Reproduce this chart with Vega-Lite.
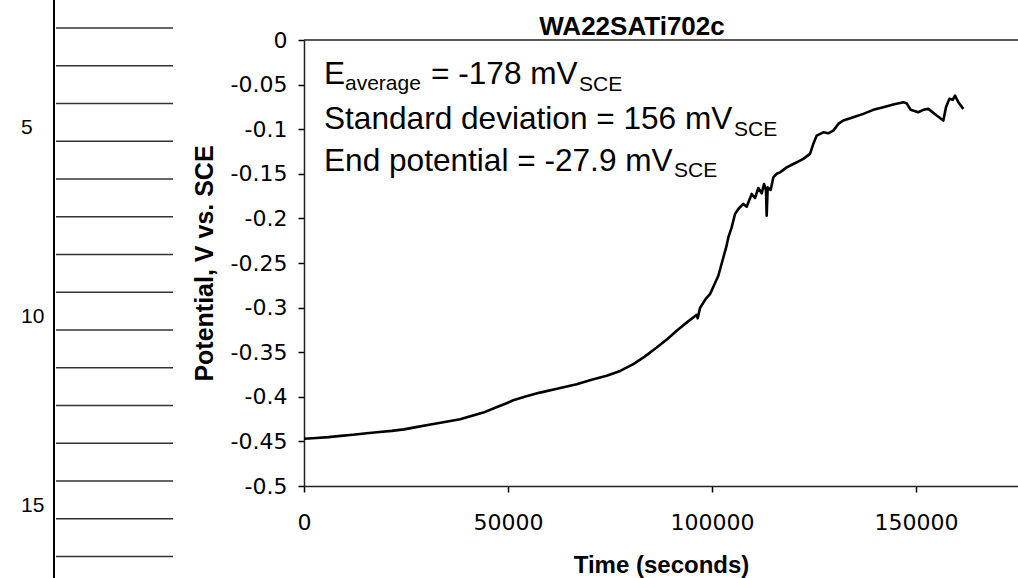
{
  "$schema": "https://vega.github.io/schema/vega-lite/v6.json",
  "width": 714,
  "height": 446,
  "autosize": {"type": "none"},
  "padding": {"left": 304, "top": 40, "right": 0, "bottom": 92},
  "background": "white",
  "config": {"view": {"stroke": null}, "axis": {"grid": false}},
  "datasets": {
    "potential": [
      {"time": 0, "potential": -0.447}, {"time": 3000, "potential": -0.4462}, {"time": 6000, "potential": -0.4452},
      {"time": 9000, "potential": -0.4438}, {"time": 12000, "potential": -0.4425}, {"time": 15360, "potential": -0.4409},
      {"time": 18500, "potential": -0.4395}, {"time": 21500, "potential": -0.4382}, {"time": 24500, "potential": -0.4365},
      {"time": 27500, "potential": -0.434}, {"time": 31000, "potential": -0.431}, {"time": 34500, "potential": -0.4282},
      {"time": 38240, "potential": -0.4252}, {"time": 41000, "potential": -0.4215}, {"time": 43950, "potential": -0.4177},
      {"time": 47000, "potential": -0.412}, {"time": 49500, "potential": -0.4075}, {"time": 51300, "potential": -0.4039},
      {"time": 54500, "potential": -0.3995}, {"time": 57840, "potential": -0.3953}, {"time": 62000, "potential": -0.391},
      {"time": 66830, "potential": -0.3859}, {"time": 70500, "potential": -0.381}, {"time": 74180, "potential": -0.3765},
      {"time": 77500, "potential": -0.371}, {"time": 80720, "potential": -0.3634}, {"time": 83500, "potential": -0.355},
      {"time": 86440, "potential": -0.3448}, {"time": 89000, "potential": -0.3355}, {"time": 91340, "potential": -0.326},
      {"time": 94000, "potential": -0.316}, {"time": 96250, "potential": -0.3081}, {"time": 96500, "potential": -0.312},
      {"time": 97060, "potential": -0.3005}, {"time": 98500, "potential": -0.29}, {"time": 99510, "potential": -0.2849},
      {"time": 100500, "potential": -0.275}, {"time": 101550, "potential": -0.2643}, {"time": 102780, "potential": -0.2438},
      {"time": 103500, "potential": -0.232}, {"time": 104000, "potential": -0.2213}, {"time": 104820, "potential": -0.2101},
      {"time": 105640, "potential": -0.1951}, {"time": 106450, "potential": -0.1895}, {"time": 107670, "potential": -0.1838},
      {"time": 108500, "potential": -0.1869}, {"time": 109730, "potential": -0.1726}, {"time": 110540, "potential": -0.1771},
      {"time": 111360, "potential": -0.1659}, {"time": 112180, "potential": -0.1719}, {"time": 112750, "potential": -0.1614},
      {"time": 113240, "potential": -0.1689}, {"time": 113400, "potential": -0.197}, {"time": 113650, "potential": -0.1652},
      {"time": 114380, "potential": -0.1681}, {"time": 115030, "potential": -0.154}, {"time": 115850, "potential": -0.15},
      {"time": 116670, "potential": -0.1484}, {"time": 118310, "potential": -0.1428}, {"time": 119930, "potential": -0.139},
      {"time": 121570, "potential": -0.1352}, {"time": 122380, "potential": -0.1333}, {"time": 124020, "potential": -0.1277},
      {"time": 124830, "potential": -0.1165}, {"time": 125650, "potential": -0.1072}, {"time": 127280, "potential": -0.1035},
      {"time": 128500, "potential": -0.1046}, {"time": 129730, "potential": -0.1016}, {"time": 130960, "potential": -0.0941},
      {"time": 132180, "potential": -0.0903}, {"time": 134630, "potential": -0.0866}, {"time": 137080, "potential": -0.0828},
      {"time": 139540, "potential": -0.0783}, {"time": 141990, "potential": -0.0754}, {"time": 144440, "potential": -0.0724},
      {"time": 146890, "potential": -0.0698}, {"time": 147710, "potential": -0.0709}, {"time": 148690, "potential": -0.0783},
      {"time": 150560, "potential": -0.081}, {"time": 151790, "potential": -0.0783}, {"time": 153020, "potential": -0.0772},
      {"time": 155070, "potential": -0.0847}, {"time": 156700, "potential": -0.0903}, {"time": 157350, "potential": -0.0754},
      {"time": 158170, "potential": -0.066}, {"time": 159000, "potential": -0.0671}, {"time": 159560, "potential": -0.0623},
      {"time": 160380, "potential": -0.0698}, {"time": 161600, "potential": -0.0772}
    ],
    "ruled_lines": [
      {"boundary": 2.5}, {"boundary": 3.5}, {"boundary": 4.5}, {"boundary": 5.5}, {"boundary": 6.5},
      {"boundary": 7.5}, {"boundary": 8.5}, {"boundary": 9.5}, {"boundary": 10.5}, {"boundary": 11.5},
      {"boundary": 12.5}, {"boundary": 13.5}, {"boundary": 14.5}, {"boundary": 15.5}, {"boundary": 16.5}
    ],
    "line_numbers": [{"line": 5}, {"line": 10}, {"line": 15}]
  },
  "resolve": {"scale": {"x": "independent", "y": "independent"}},
  "layer": [
    {
      "layer": [
        {
          "data": {"name": "potential"},
          "mark": {"type": "line", "color": "black", "strokeWidth": 2.6, "strokeJoin": "round"},
          "encoding": {
            "x": {
              "field": "time", "type": "quantitative", "title": "Time (seconds)",
              "scale": {"domain": [0, 175000], "nice": false, "zero": false},
              "axis": {"values": [0, 50000, 100000, 150000], "format": "d", "tickSize": 6, "tickColor": "black", "tickWidth": 1.5,
                "domainColor": "#222", "domainWidth": 1.5, "labelFont": "DejaVu Sans", "labelFontSize": 22, "labelColor": "black",
                "labelPadding": 20, "labelFlush": false, "labelOverlap": false,
                "titleFont": "Liberation Sans", "titleFontSize": 24, "titleFontWeight": "bold", "titleColor": "black", "titlePadding": 20}
            },
            "y": {
              "field": "potential", "type": "quantitative", "title": "Potential, V vs. SCE",
              "scale": {"domain": [-0.5, 0], "nice": false, "zero": false},
              "axis": {"values": [0, -0.05, -0.1, -0.15, -0.2, -0.25, -0.3, -0.35, -0.4, -0.45, -0.5],
                "labelExpr": "toString(datum.value)", "tickSize": 6, "tickColor": "black", "tickWidth": 1.5,
                "domainColor": "#222", "domainWidth": 1.5, "labelFont": "DejaVu Sans", "labelFontSize": 22, "labelColor": "black",
                "labelPadding": 11, "labelFlush": false, "labelOverlap": false,
                "titleFont": "Liberation Sans", "titleFontSize": 25, "titleFontWeight": "bold", "titleColor": "black", "titlePadding": 13}
            }
          }
        },
        {
          "data": {"values": [{}]},
          "mark": {"type": "rule", "color": "#222", "strokeWidth": 1.5},
          "encoding": {"y": {"datum": 0}}
        },
        {
          "data": {"values": [{}]},
          "mark": {"type": "text", "text": "WA22SATi702c", "font": "Liberation Sans", "fontSize": 26, "fontWeight": "bold", "align": "center", "baseline": "alphabetic", "color": "black"},
          "encoding": {"x": {"datum": 80390}, "y": {"datum": 0.0056}}
        },
        {
          "data": {"values": [{}]},
          "mark": {"type": "text", "text": "E", "font": "Liberation Sans", "fontSize": 31.6, "align": "left", "baseline": "alphabetic", "color": "black"},
          "encoding": {"x": {"datum": 4900}, "y": {"datum": -0.0492}}
        },
        {
          "data": {"values": [{}]},
          "mark": {"type": "text", "text": "average", "font": "Liberation Sans", "fontSize": 21, "align": "left", "baseline": "alphabetic", "color": "black"},
          "encoding": {"x": {"datum": 10050}, "y": {"datum": -0.0556}}
        },
        {
          "data": {"values": [{}]},
          "mark": {"type": "text", "text": "= -178 mV", "font": "Liberation Sans", "fontSize": 31.6, "align": "left", "baseline": "alphabetic", "color": "black"},
          "encoding": {"x": {"datum": 31130}, "y": {"datum": -0.0492}}
        },
        {
          "data": {"values": [{}]},
          "mark": {"type": "text", "text": "SCE", "font": "Liberation Sans", "fontSize": 21, "align": "left", "baseline": "alphabetic", "color": "black"},
          "encoding": {"x": {"datum": 67400}, "y": {"datum": -0.0567}}
        },
        {
          "data": {"values": [{}]},
          "mark": {"type": "text", "text": "Standard deviation = 156 mV", "font": "Liberation Sans", "fontSize": 31.6, "align": "left", "baseline": "alphabetic", "color": "black"},
          "encoding": {"x": {"datum": 4900}, "y": {"datum": -0.0993}}
        },
        {
          "data": {"values": [{}]},
          "mark": {"type": "text", "text": "SCE", "font": "Liberation Sans", "fontSize": 21, "align": "left", "baseline": "alphabetic", "color": "black"},
          "encoding": {"x": {"datum": 105390}, "y": {"datum": -0.1072}}
        },
        {
          "data": {"values": [{}]},
          "mark": {"type": "text", "text": "End potential = -27.9 mV", "font": "Liberation Sans", "fontSize": 31.6, "align": "left", "baseline": "alphabetic", "color": "black"},
          "encoding": {"x": {"datum": 4900}, "y": {"datum": -0.1465}}
        },
        {
          "data": {"values": [{}]},
          "mark": {"type": "text", "text": "SCE", "font": "Liberation Sans", "fontSize": 21, "align": "left", "baseline": "alphabetic", "color": "black"},
          "encoding": {"x": {"datum": 90700}, "y": {"datum": -0.154}}
        }
      ]
    },
    {
      "layer": [
        {
          "data": {"name": "ruled_lines"},
          "mark": {"type": "rule", "color": "#333", "strokeWidth": 1.3},
          "encoding": {
            "x": {"datum": -248, "type": "quantitative", "scale": {"domain": [0, 714], "nice": false, "zero": false}, "axis": null},
            "x2": {"datum": -131},
            "y": {"field": "boundary", "type": "quantitative", "scale": {"domain": [2.818, 14.633], "reverse": true, "nice": false, "zero": false}, "axis": null}
          }
        },
        {
          "data": {"values": [{}]},
          "mark": {"type": "rule", "color": "black", "strokeWidth": 2},
          "encoding": {
            "x": {"datum": -250, "type": "quantitative"},
            "y": {"datum": 1.758, "type": "quantitative"},
            "y2": {"datum": 17.07}
          }
        },
        {
          "data": {"name": "line_numbers"},
          "mark": {"type": "text", "font": "Liberation Sans", "fontSize": 21, "align": "left", "baseline": "alphabetic", "dy": 12, "color": "black"},
          "encoding": {
            "x": {"datum": -283, "type": "quantitative"},
            "y": {"field": "line", "type": "quantitative"},
            "text": {"field": "line", "type": "nominal"}
          }
        }
      ]
    }
  ]
}
